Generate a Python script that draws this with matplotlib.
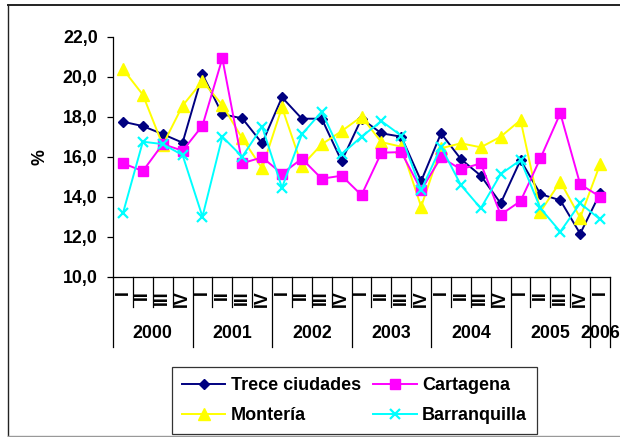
import numpy as np
import matplotlib
matplotlib.use("Agg")
import matplotlib.pyplot as plt
from matplotlib.lines import Line2D

# quarterly series, 2000-I .. 2006-I
quarters = ["I", "II", "III", "IV"] * 6 + ["I"]
years = ["2000", "2001", "2002", "2003", "2004", "2005", "2006"]
quarters_per_year = [4, 4, 4, 4, 4, 4, 1]

trece = [17.75, 17.53, 17.13, 16.70, 20.12, 18.12, 17.92, 16.67, 18.97, 17.90,
         17.90, 15.78, 17.90, 17.17, 17.00, 14.78, 17.17, 15.88, 15.05, 13.67,
         15.83, 14.13, 13.82, 12.15, 14.17]
cartagena = [15.67, 15.28, 16.63, 16.30, 17.55, 20.92, 15.67, 15.97, 15.15, 15.90,
             14.90, 15.05, 14.08, 16.20, 16.23, 14.33, 15.97, 15.37, 15.67, 13.10,
             13.78, 15.92, 18.17, 14.62, 14.00]
monteria = [20.38, 19.10, 16.58, 18.55, 19.78, 18.58, 16.92, 15.42, 18.47, 15.55,
            16.62, 17.28, 18.00, 16.73, 16.50, 13.50, 16.42, 16.67, 16.47, 17.00,
            17.83, 13.25, 14.75, 12.95, 15.62]
barranquilla = [13.17, 16.75, 16.63, 16.08, 13.00, 17.00, 16.00, 17.50, 14.45, 17.12,
                18.25, 16.12, 17.00, 17.78, 17.05, 14.33, 16.50, 14.58, 13.42, 15.13,
                15.83, 13.42, 12.25, 13.67, 12.87]

FONT = ["Liberation Sans", "DejaVu Sans"]
plt.rcParams["font.family"] = FONT
plt.rcParams["font.weight"] = "bold"
FS = 12.8

fig = plt.figure(figsize=(6.2, 4.37), dpi=100)
ax = fig.add_axes([113/620, 1-276.7/437, 497/620, 240/437])

x = np.arange(len(quarters))
ax.plot(x, trece, color="#000080", marker="D", ms=5.5, lw=1.4, label="Trece ciudades")
ax.plot(x, monteria, color="#FFFF00", marker="^", ms=8, lw=1.4, label="Montería")
ax.plot(x, cartagena, color="#FF00FF", marker="s", ms=6.5, lw=1.4, label="Cartagena")
ax.plot(x, barranquilla, color="#00FFFF", marker="x", ms=7.5, mew=1.6, lw=1.4,
        label="Barranquilla")

ax.set_xlim(-0.5, len(quarters) - 0.5)
ax.set_ylim(10, 22)
ax.set_yticks(np.arange(10, 22.1, 2))
ax.set_yticklabels([f"{v:.1f}".replace(".", ",") for v in np.arange(10, 22.1, 2)],
                   fontsize=FS, fontweight="bold")
ax.tick_params(axis="y", length=4, width=0.9, pad=7)
ax.set_xticks(x)
ax.set_xticklabels(quarters, rotation=90, fontsize=FS, fontweight="bold")
ax.tick_params(axis="x", length=0, pad=10)
ax.set_ylabel("%", fontsize=FS, fontweight="bold", labelpad=10)

for s in ("top", "right"):
    ax.spines[s].set_visible(False)
for s in ("left", "bottom"):
    ax.spines[s].set_linewidth(0.9)

# category separators below the axis and year labels
trans = ax.get_xaxis_transform()
starts = np.concatenate([[0], np.cumsum(quarters_per_year)])
year_edges = set(starts - 0.5)
for b in np.arange(-0.5, len(quarters), 1.0):
    depth = -0.292 if b in year_edges else -0.125
    ax.plot([b, b], [0, depth], color="black", lw=0.9, transform=trans, clip_on=False)
for i, yr in enumerate(years):
    xc = (starts[i] + starts[i + 1] - 1) / 2
    ax.text(xc, -0.235, yr, transform=trans, ha="center", va="center",
            fontsize=FS, fontweight="bold")

leg = fig.legend(loc="upper left", bbox_to_anchor=(172/620, 1-367/437), ncol=2,
                 fontsize=13, frameon=True, fancybox=False, edgecolor="black",
                 handlelength=2.4, handletextpad=0.3, columnspacing=0.7,
                 labelspacing=0.75, borderpad=0.55, borderaxespad=0)
leg.get_frame().set_linewidth(0.9)
for t in leg.get_texts():
    t.set_fontweight("bold")

# outer chart border
fig.add_artist(Line2D([8/620, 8/620], [1-5/437, 1-436/437], color="#222222", lw=1.0,
                      transform=fig.transFigure))
fig.add_artist(Line2D([8/620, 1], [1-5/437, 1-5/437], color="#222222", lw=1.4,
                      transform=fig.transFigure))
fig.add_artist(Line2D([8/620, 1], [1-435.7/437, 1-435.7/437], color="#999999", lw=1.0,
                      transform=fig.transFigure))

fig.savefig("out.png", dpi=100)
